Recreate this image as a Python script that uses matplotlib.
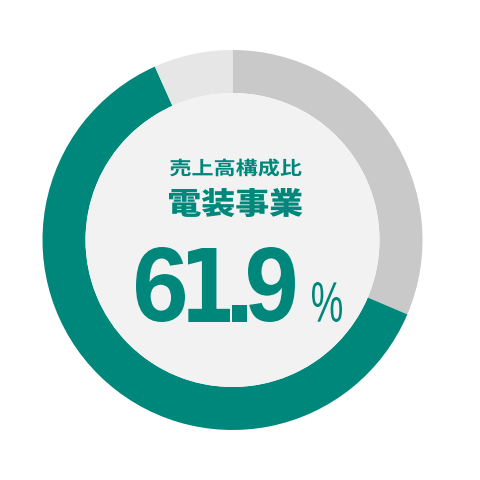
import matplotlib
matplotlib.use("Agg")
import matplotlib.pyplot as plt
from matplotlib.patches import Circle, PathPatch
from matplotlib.textpath import TextPath
from matplotlib.font_manager import FontProperties
from matplotlib.transforms import Affine2D

# share of sales, clockwise from 12 o'clock
labels = ["その他", "電装事業", "その他2"]
shares = [31.4, 61.9, 6.7]
colors = ["#c9c9c9", "#00877b", "#e6e6e6"]

title_small = "売上高構成比"
title_big = "電装事業"
value_text = "61.9"
unit_text = "%"

TEAL = "#00877b"
W = H = 480

fig = plt.figure(figsize=(4.8, 4.8), dpi=100)
ax = fig.add_axes([0, 0, 1, 1])
ax.set_aspect("equal")
ax.axis("off")

cx, cy = 232.5, H - 240
r_out, r_in = 190, 147

ax.pie(shares, colors=colors, center=(cx, cy), radius=r_out,
       startangle=90, counterclock=False,
       wedgeprops=dict(width=r_out - r_in, linewidth=0))
ax.add_patch(Circle((cx, cy), r_in, color="#f2f2f2", lw=0, zorder=3))
ax.set_xlim(0, W)
ax.set_ylim(0, H)


def fit_text(s, fp, x0, x1, ytop, ybot):
    # squeeze the glyph outlines into a pixel box (y from the top)
    tp = TextPath((0, 0), s, size=100, prop=fp)
    ext = tp.get_extents()
    sx = (x1 - x0) / ext.width
    sy = (ybot - ytop) / ext.height
    tr = (Affine2D().translate(-ext.x0, -ext.y0).scale(sx, sy)
          .translate(x0, H - ybot))
    ax.add_patch(PathPatch(tr.transform_path(tp), color=TEAL, lw=0, zorder=4))


jp_bold = FontProperties(family="Noto Sans CJK JP", weight="bold")
jp_heavy = FontProperties(family="Noto Sans CJK JP", weight="black")
lib_bold = FontProperties(family="Liberation Sans", weight="bold")
djv_bold = FontProperties(family="DejaVu Sans", weight="bold")
num_reg = FontProperties(family="Liberation Sans")

fit_text(title_small, jp_bold, 170, 301.5, 158.5, 176.5)
fit_text(title_big, jp_heavy, 169, 302.5, 188, 217)

# each glyph of the big number in its own box (tight spacing)
boxes = [(136, 185, 247, 322), (188, 230, 248, 322),
         (232, 247, 305, 322), (248, 295, 247, 322)]
fonts = [lib_bold, djv_bold, lib_bold, lib_bold]
for ch, fp, (x0, x1, y0, y1) in zip(value_text, fonts, boxes):
    fit_text(ch, fp, x0, x1, y0, y1)
fit_text(unit_text, num_reg, 312, 342, 282, 322)

fig.savefig("out.png", dpi=100, facecolor="white")
